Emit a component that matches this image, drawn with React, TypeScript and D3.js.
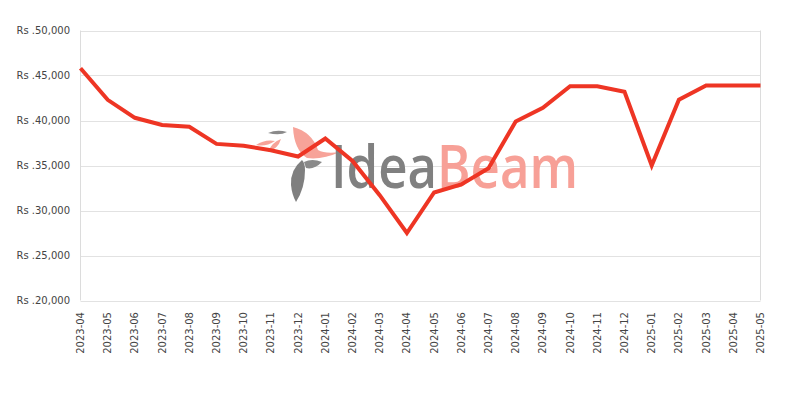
import React from "react";
import * as d3 from "d3";

const months = [
  "2023-04","2023-05","2023-06","2023-07","2023-08","2023-09","2023-10","2023-11","2023-12",
  "2024-01","2024-02","2024-03","2024-04","2024-05","2024-06","2024-07","2024-08","2024-09",
  "2024-10","2024-11","2024-12","2025-01","2025-02","2025-03","2025-04","2025-05",
];
const prices = [
  45800, 42300, 40300, 39500, 39300, 37400, 37200, 36700, 36000,
  38000, 35500, 31700, 27500, 32000, 32900, 34700, 39900, 41400,
  43800, 43800, 43200, 35000, 42300, 43900, 43900, 43900,
];
const yTicks = [20000, 25000, 30000, 35000, 40000, 45000, 50000];

const W = 800, H = 400;
const M = { left: 80.5, right: 760.5, top: 30.5, bottom: 300.5 };

export default function App() {
  const x = d3.scalePoint<string>().domain(months).range([M.left, M.right]);
  const y = d3.scaleLinear().domain([20000, 50000]).range([M.bottom, M.top]);
  const line = d3.line<number>().x((_, i) => x(months[i])!).y((d) => y(d));
  const fmt = (v: number) => "Rs ." + d3.format(",")(v);
  const font = "'DejaVu Sans', Verdana, sans-serif";

  return (
    <svg width={W} height={H} style={{ position: "absolute", left: 0, top: 0 }}>
      <rect width={W} height={H} fill="#fff" />
      {yTicks.map((t) => (
        <g key={t}>
          <line x1={M.left} x2={M.right} y1={Math.round(y(t)) + 0.5} y2={Math.round(y(t)) + 0.5} stroke="#e2e2e2" strokeWidth={1} />
          <text x={70} y={y(t)} dy="0.35em" textAnchor="end" fontSize={10} fill="#444" fontFamily={font}>
            {fmt(t)}
          </text>
        </g>
      ))}
      <line x1={M.left} x2={M.left} y1={M.top} y2={M.bottom} stroke="#dcdcdc" />
      <line x1={M.right} x2={M.right} y1={M.top} y2={M.bottom} stroke="#dcdcdc" />
      {months.map((m) => (
        <text key={m} transform={`translate(${x(m)},${312}) rotate(-90)`} dy="0.35em" textAnchor="end" fontSize={10} fill="#444" fontFamily={font}>
          {m}
        </text>
      ))}
      {/* watermark logo */}
      <g>
        <path d="M 268 133 Q 277 129 287 132 Q 280 136 268 133 Z" fill="#8a8a8a" />
        <path d="M 256 145 Q 265 139 275 141 Q 266 147 256 145 Z" fill="#f7a399" />
        <path d="M 268 152 Q 272 142 281 139 Q 278 149 268 152 Z" fill="#f7a399" />
        <path d="M 293 127 Q 312 132 318 150 Q 325 154 340 152 Q 322 160 307 158 Q 294 150 293 127 Z" fill="#f7a399" />
        <path d="M 302 160 Q 290 170 291 185 Q 292 195 296 202 Q 305 188 305 170 Q 305 163 302 160 Z" fill="#7f7f7f" />
        <path d="M 304 162 Q 312 158 322 162 Q 314 170 306 168 Z" fill="#8a8a8a" />
        <text x={331} y={188} fontSize={60} fontFamily="'Open Sans', 'Noto Sans', sans-serif" fontWeight={600} textLength={247} lengthAdjust="spacingAndGlyphs">
          <tspan fill="#808080">Idea</tspan>
          <tspan fill="#f7a097">Beam</tspan>
        </text>
      </g>
      <path d={line(prices)!} fill="none" stroke="#ee3524" strokeWidth={4} strokeLinejoin="miter" />
    </svg>
  );
}
